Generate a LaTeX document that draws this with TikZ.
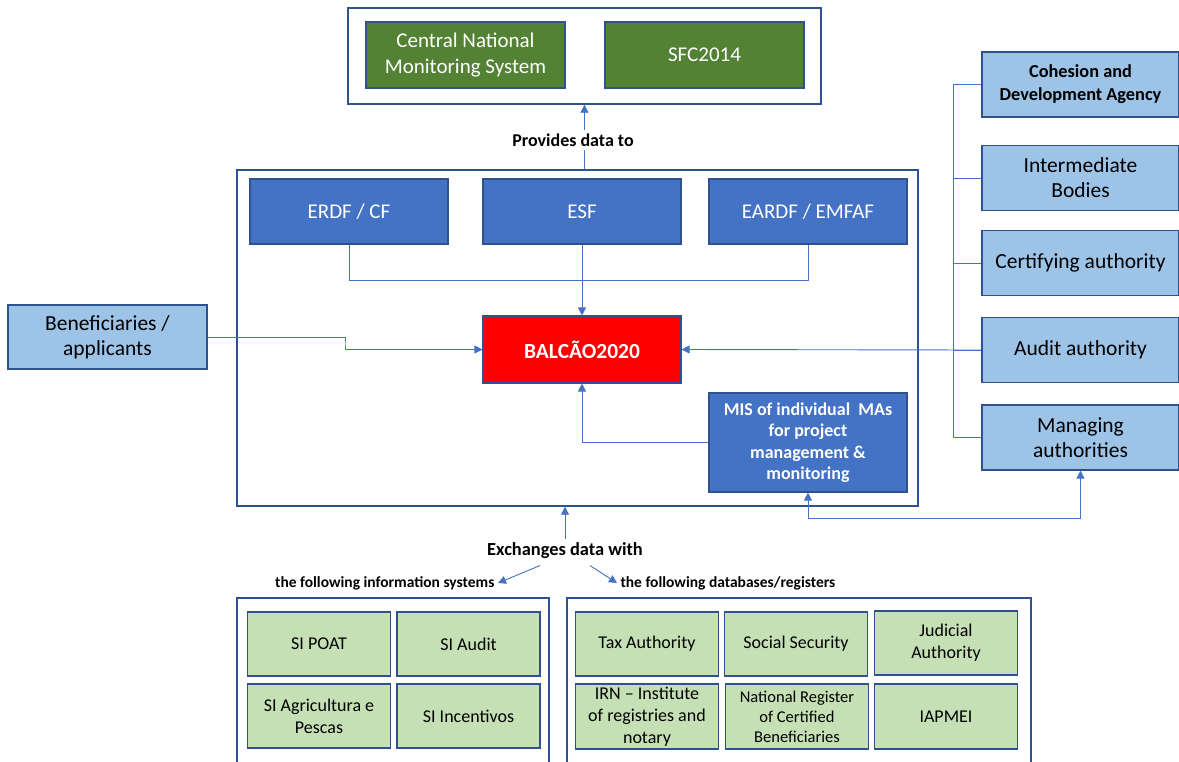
\documentclass[tikz,border=0pt]{standalone}
\usepackage{fontspec}
\setmainfont{Carlito}
\usetikzlibrary{arrows.meta}
\usetikzlibrary{calc}
\usetikzlibrary{positioning}

\definecolor{edgeblue}{HTML}{2F528F}
\definecolor{linkblue}{HTML}{4472C4}
\definecolor{fundblue}{HTML}{4472C4}
\definecolor{bodyblue}{HTML}{9DC3E6}
\definecolor{darkgreen}{HTML}{548235}
\definecolor{lightgreen}{HTML}{C5E0B4}
\definecolor{balcaored}{HTML}{FF0000}

\tikzset{
  panel/.style={draw=edgeblue,line width=1.4pt,rectangle},
  unit/.style={draw=edgeblue,line width=1.1pt,rectangle,align=center,inner sep=2pt},
  natsys/.style={unit,fill=darkgreen,text=white,minimum width=199pt,minimum height=66pt,font=\fontsize{21}{26}\selectfont},
  fund/.style={unit,fill=fundblue,text=white,minimum width=198pt,minimum height=65pt,font=\fontsize{21}{26}\selectfont},
  body/.style={unit,fill=bodyblue,text=black,minimum width=197pt,minimum height=65pt,font=\fontsize{21.5}{25}\selectfont},
  regbox/.style={unit,fill=lightgreen,text=black,minimum width=143pt,minimum height=64pt,font=\fontsize{18}{22}\selectfont},
  conn/.style={draw=linkblue,line width=0.9pt},
  tip/.style={-{Triangle[width=8pt,length=8pt]}}
}

\begin{document}
\begin{tikzpicture}[x=1pt,y=-1pt]

  \useasboundingbox [fill=white] (0,0) rectangle (1179,761);

  % national level
  \node [panel,minimum width=473pt,minimum height=96pt] (natpanel) at (584.5,56) {};
  \node [natsys] (cnms) at (465.5,55) {Central National\\Monitoring System};
  \node [natsys] (sfc) at (704.5,55) {SFC2014};

  \node [font=\bfseries\fontsize{18}{21}\selectfont] (provides) at (573,140) {Provides data to};

  % BALCAO panel
  \node [panel,minimum width=681pt,minimum height=336pt] (main) at (577.5,338) {};
  \node [fund] (erdf) at (349,211.5) {ERDF / CF};
  \node [fund] (esf) at (582,211.5) {ESF};
  \node [fund] (eardf) at (808,211.5) {EARDF / EMFAF};
  \node [unit,fill=balcaored,text=white,minimum width=198pt,minimum height=67pt,
         font=\bfseries\fontsize{21.5}{25}\selectfont] (balcao) at (582,349.5) {BALCÃO2020};
  \node [unit,fill=fundblue,text=white,minimum width=198pt,minimum height=99pt,
         font=\bfseries\fontsize{18}{21.5}\selectfont] (mis) at (808,442.5)
        {MIS of individual~ MAs\\for project\\management \&\\monitoring};

  \node [body,minimum width=199pt,minimum height=64pt] (benef) at (107.5,337) {Beneficiaries /\\applicants};

  % bodies on the right
  \node [body,font=\bfseries\fontsize{18.3}{23}\selectfont] (cohesion) at (1080.5,84.5) {Cohesion and\\Development Agency};
  \node [body] (intermediate) at (1080.5,178) {Intermediate\\Bodies};
  \node [body] (certifying) at (1080.5,263) {Certifying authority};
  \node [body] (audit) at (1080.5,350) {Audit authority};
  \node [body] (managing) at (1080.5,437.5) {Managing\\authorities};
  \coordinate (bustop) at (953,84.5);

  % exchanges
  \node [font=\bfseries\fontsize{18.4}{22}\selectfont] (exch) at (565,551) {Exchanges data with};
  \node [anchor=east,font=\bfseries\fontsize{15.5}{18}\selectfont] (infolab) at (498,583) {the following information systems};
  \node [anchor=west,font=\bfseries\fontsize{15.5}{18}\selectfont] (dblab) at (617,583) {the following databases/registers};

  \node [panel,minimum width=312pt,minimum height=177pt] (infopanel) at (393,686.5) {};
  \node [panel,minimum width=464pt,minimum height=177pt] (dbpanel) at (799,686.5) {};

  \node [regbox] (poat) at (319,644) {SI POAT};
  \node [regbox] (siaudit) at (468.5,644) {SI Audit};
  \node [regbox] (agri) at (319,716) {SI Agricultura e\\Pescas};
  \node [regbox] (incent) at (468.5,716) {SI Incentivos};

  \node [regbox] (tax) at (647,644) {Tax Authority};
  \node [regbox] (social) at (796,644) {Social Security};
  \node [regbox] (judicial) at (946,643) {Judicial\\Authority};
  \node [regbox,minimum height=65pt] (irn) at (647,716.5) {IRN – Institute\\of registries and\\notary};
  \node [regbox,minimum height=65pt,font=\fontsize{16.5}{20}\selectfont] (natreg) at (797,716.5) {National Register\\of Certified\\Beneficiaries};
  \node [regbox,minimum height=65pt] (iapmei) at (946,716.5) {IAPMEI};

  % connectors
  \path [conn] (natpanel.south |- main.north) -- (natpanel.south |- provides.south);
  \path [conn,tip] (natpanel.south |- provides.north) -- (natpanel.south);

  \coordinate (fundjoin) at (582,280);
  \path [conn] (erdf.south) |- (fundjoin);
  \path [conn] (eardf.south) |- (fundjoin);
  \path [conn,tip] (esf.south) -- (balcao.north);

  \path [conn,tip] (benef.east) -| ($(benef.east)!0.5!(balcao.west)$) |- (balcao.west);
  \path [conn,tip] (mis.west) -| (balcao.south);

  \path [conn] (cohesion.west) -- (bustop) |- (managing.west);
  \foreach \b in {intermediate,certifying,audit}
    \path [conn] (\b.west) -- (\b.west -| bustop);
  \path [conn,tip] (audit.west) -- (balcao.east);

  \path [conn,{Triangle[width=8pt,length=8pt]}-{Triangle[width=8pt,length=8pt]}]
    (mis.south) -- ++(0,26) -| (managing.south);

  \path [conn,tip] (exch.north) -- (exch.north |- main.south);
  \path [conn,tip] ($(exch.south)+(-25,3)$) -- (infolab.east);
  \path [conn,tip] ($(exch.south)+(25,3)$) -- (dblab.west);

\end{tikzpicture}
\end{document}
